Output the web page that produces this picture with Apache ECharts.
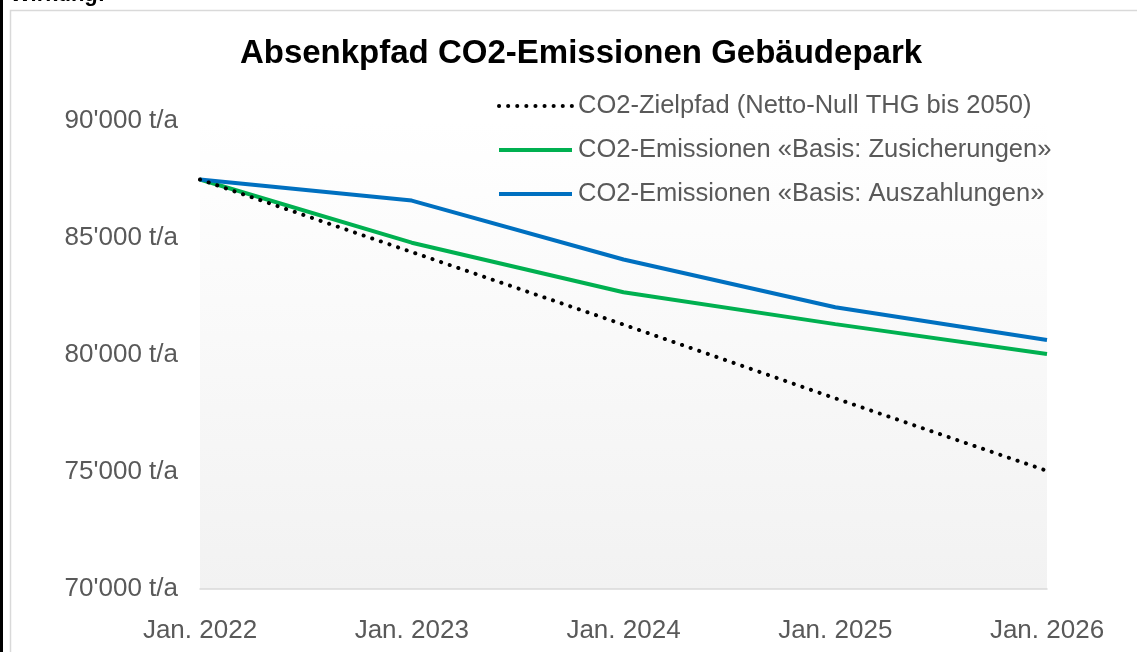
<!DOCTYPE html>
<html>
<head>
<meta charset="utf-8">
<script src="https://cdn.jsdelivr.net/npm/echarts@6/dist/echarts.min.js"></script>
<style>html,body{margin:0;padding:0;background:#fff}#c{width:1137px;height:652px}</style>
</head>
<body>
<div id="c"></div>
<script>
const categories = ['Jan. 2022', 'Jan. 2023', 'Jan. 2024', 'Jan. 2025', 'Jan. 2026'];
const zielpfad = [87500, 84400, 81300, 78150, 75050];
const zusicherungen = [87500, 84800, 82680, 81320, 80040];
const auszahlungen = [87500, 86600, 84080, 82040, 80640];
const seriesNames = [
  'CO2-Zielpfad (Netto-Null THG bis 2050)',
  'CO2-Emissionen «Basis: Zusicherungen»',
  'CO2-Emissionen «Basis: Auszahlungen»'
];
const yTicks = { min: 70000, max: 90000, interval: 5000 };

const FONT = 'Liberation Sans, Arial, sans-serif';
const chart = echarts.init(document.getElementById('c'), null, { renderer: 'canvas' });
const fmt = v => String(v).replace(/\B(?=(\d{3})+(?!\d))/g, "'") + ' t/a';
chart.setOption({
  animation: false,
  textStyle: { fontFamily: FONT },
  title: {
    text: 'Absenkpfad CO2-Emissionen Gebäudepark',
    left: 576, top: 32, textAlign: 'center',
    textStyle: { fontSize: 33, fontWeight: 'bold', color: '#000', fontFamily: FONT }
  },
  legend: {
    left: 497, top: 93, orient: 'vertical', itemGap: 18,
    itemWidth: 73, itemHeight: 26, padding: 0,
    itemStyle: { opacity: 0 },
    lineStyle: { width: 4 },
    textStyle: { fontSize: 25.5, color: '#595959', fontFamily: FONT, padding: [0, 0, 0, 1] },
    data: seriesNames
  },
  graphic: [
    { type: 'rect', shape: { x: 0, y: 0, width: 3, height: 652 }, style: { fill: '#000' } },
    { type: 'rect', shape: { x: 10.5, y: 10.5, width: 1140, height: 660 }, style: { fill: 'none', stroke: '#d9d9d9', lineWidth: 1.5 } },
    { type: 'text', left: 10, top: -16, style: { text: 'Wirkung:', font: 'bold 22px "Liberation Sans", Arial, sans-serif', fill: '#000' } }
  ],
  grid: {
    left: 200, right: 90, top: 121, bottom: 63,
    show: true, borderWidth: 0,
    backgroundColor: { type: 'linear', x: 0, y: 0, x2: 0, y2: 1, colorStops: [{ offset: 0, color: '#ffffff' }, { offset: 1, color: '#f2f2f2' }] }
  },
  xAxis: {
    type: 'category', data: categories, boundaryGap: false,
    axisLine: { lineStyle: { color: '#d9d9d9', width: 1.5 } },
    axisTick: { show: false },
    axisLabel: { fontSize: 26, color: '#595959', margin: 29, fontFamily: FONT }
  },
  yAxis: {
    type: 'value', min: yTicks.min, max: yTicks.max, interval: yTicks.interval,
    axisLine: { show: false }, axisTick: { show: false }, splitLine: { show: false },
    axisLabel: { fontSize: 26, color: '#595959', margin: 22, formatter: fmt, fontFamily: FONT }
  },
  series: [
    { name: seriesNames[0], type: 'line', data: zielpfad, symbol: 'none', z: 3,
      lineStyle: { color: '#000', width: 4, type: [0.1, 9], cap: 'round' }, itemStyle: { color: '#000' } },
    { name: seriesNames[1], type: 'line', data: zusicherungen, symbol: 'none', z: 2,
      lineStyle: { color: '#00b050', width: 4 }, itemStyle: { color: '#00b050' } },
    { name: seriesNames[2], type: 'line', data: auszahlungen, symbol: 'none', z: 2,
      lineStyle: { color: '#0070c0', width: 4 }, itemStyle: { color: '#0070c0' } }
  ]
});
</script>
</body>
</html>
